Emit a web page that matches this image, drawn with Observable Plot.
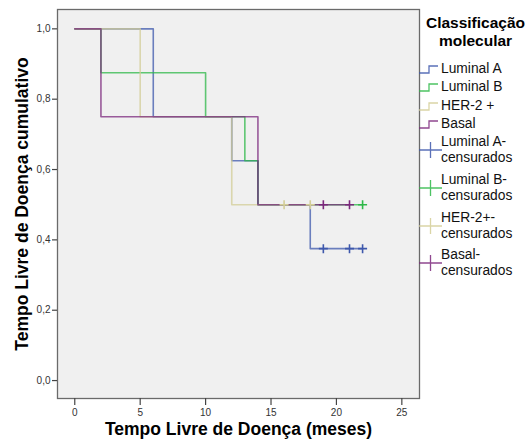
<!DOCTYPE html>
<html>
<head>
<meta charset="utf-8">
<script src="https://cdn.jsdelivr.net/npm/d3@7"></script>
<script src="https://cdn.jsdelivr.net/npm/@observablehq/plot@0.6"></script>
<style>
  html, body { margin: 0; padding: 0; background: #fff; }
  #wrap { position: relative; width: 531px; height: 445px; font-family: "Liberation Sans", Arial, sans-serif; }
  #legend { position: absolute; left: 0; top: 0; width: 531px; height: 445px; pointer-events: none; }
  .lt { position: absolute; font-size: 13.8px; color: #111; line-height: 16px; white-space: nowrap; }
  .title { position: absolute; font-weight: bold; font-size: 15.5px; color: #000; text-align: center; line-height: 18px; }
</style>
</head>
<body>
<div id="wrap"></div>
<script>
// ---- data ----
const groups = ["Luminal A", "Luminal B", "HER-2 +", "Basal"];
const colors = ["#3E58AC", "#2EB848", "#D3CE97", "#7C287D"];

// step points: time (months), cumulative survival
const lumA_t = [0, 6, 12, 14, 18, 22];
const lumA_s = [1, 0.75, 0.625, 0.5, 0.375, 0.375];
const lumB_t = [0, 2, 10, 13, 14, 22];
const lumB_s = [1, 0.875, 0.75, 0.625, 0.5, 0.5];
const her2_t = [0, 5, 12, 18];
const her2_s = [1, 0.75, 0.5, 0.5];
const basal_t = [0, 2, 14, 21];
const basal_s = [1, 0.75, 0.5, 0.5];

// censored observations
const lumA_ct = [19, 21, 22];  const lumA_cs = [0.375, 0.375, 0.375];
const lumB_ct = [22];          const lumB_cs = [0.5];
const her2_ct = [16, 18];      const her2_cs = [0.5, 0.5];
const basal_ct = [19, 21];     const basal_cs = [0.5, 0.5];

const xTicks = [0, 5, 10, 15, 20, 25];
const yTicks = [0, 0.2, 0.4, 0.6, 0.8, 1.0];
const xLabel = "Tempo Livre de Doença (meses)";
const yLabel = "Tempo Livre de Doença cumulativo";
const legendTitle = ["Classificação", "molecular"];
const legendEntries = [
  ["Luminal A"], ["Luminal B"], ["HER-2 +"], ["Basal"],
  ["Luminal A-", "censurados"], ["Luminal B-", "censurados"],
  ["HER-2+-", "censurados"], ["Basal-", "censurados"]
];

// ---- build tables ----
const stepT = [lumA_t, lumB_t, her2_t, basal_t];
const stepS = [lumA_s, lumB_s, her2_s, basal_s];
const cenT = [lumA_ct, lumB_ct, her2_ct, basal_ct];
const cenS = [lumA_cs, lumB_cs, her2_cs, basal_cs];

const steps = groups.map((g, i) => stepT[i].map((t, j) => ({group: g, t, s: stepS[i][j]})));
const cens = groups.flatMap((g, i) => cenT[i].map((t, j) => ({group: g, t, s: cenS[i][j]})));

const crossSymbol = {
  draw(ctx, size) {
    const r = Math.sqrt(size / Math.PI);
    ctx.moveTo(-r, 0); ctx.lineTo(r, 0);
    ctx.moveTo(0, -r); ctx.lineTo(0, r);
  }
};

const marks = [
  Plot.frame({fill: "#f0f0f0", stroke: "none"}),
  ...steps.map((d, i) => Plot.line(d, {x: "t", y: "s", curve: "step-after", stroke: colors[i], strokeWidth: 1.6, strokeOpacity: 0.75})),
  ...groups.map((g, i) => Plot.dot(cens.filter(d => d.group === g), {x: "t", y: "s", symbol: crossSymbol, r: 4.5, stroke: colors[i], strokeWidth: 1.6, fill: "none"})),
  Plot.frame({stroke: "#6a6a6a", strokeWidth: 1.3}),
  Plot.axisY({ticks: yTicks, tickFormat: d => d.toFixed(1).replace(".", ","), tickSize: 5, tickPadding: 2, label: null, stroke: "#444", strokeWidth: 1.2}),
  Plot.axisX({ticks: xTicks, tickSize: 7, tickPadding: 3, label: null, stroke: "#444", strokeWidth: 1.2}),
  Plot.text([xLabel], {frameAnchor: "bottom", dy: 36, text: d => d, fontSize: 17.5, fontWeight: "bold", fill: "#000"}),
  Plot.text([yLabel], {frameAnchor: "left", dx: -35, rotate: -90, textAnchor: "middle", text: d => d, fontSize: 17.5, fontWeight: "bold", fill: "#000"})
];

const chart = Plot.plot({
  width: 531,
  height: 445,
  marginLeft: 57,
  marginRight: 112,
  marginTop: 9,
  marginBottom: 47,
  x: {domain: [-1.32, 26.35]},
  y: {domain: [-0.051, 1.055]},
  style: {fontFamily: "'Liberation Sans', Arial, sans-serif", fontSize: "10px", color: "#333", background: "transparent"},
  marks
});

const wrap = document.getElementById("wrap");
wrap.appendChild(chart);

// ---- legend (HTML overlay) ----
const leg = document.createElement("div");
leg.id = "legend";
const title = document.createElement("div");
title.className = "title";
title.style.left = "420px"; title.style.width = "111px"; title.style.top = "14px";
title.innerHTML = legendTitle.join("<br>");
leg.appendChild(title);

const ns = "http://www.w3.org/2000/svg";
const svg = document.createElementNS(ns, "svg");
svg.setAttribute("width", 531); svg.setAttribute("height", 445);
svg.style.position = "absolute"; svg.style.left = "0"; svg.style.top = "0";
leg.appendChild(svg);

const rowY = [69, 87, 106, 124, 150, 188, 226, 263];
legendEntries.forEach((lines, k) => {
  const ci = k % 4;
  const cy = rowY[k];
  const col = colors[ci];
  if (k < 4) {
    const p = document.createElementNS(ns, "path");
    p.setAttribute("d", `M419,${cy + 4}H429V${cy - 3}H438`);
    p.setAttribute("fill", "none"); p.setAttribute("stroke", col); p.setAttribute("stroke-width", 1.3);
    p.setAttribute("stroke-opacity", 0.85);
    svg.appendChild(p);
  } else {
    const p = document.createElementNS(ns, "path");
    p.setAttribute("d", `M419,${cy}H442M430.5,${cy - 8}V${cy + 8}`);
    p.setAttribute("fill", "none"); p.setAttribute("stroke", col); p.setAttribute("stroke-width", 1.3);
    p.setAttribute("stroke-opacity", 0.85);
    svg.appendChild(p);
  }
  const t = document.createElement("div");
  t.className = "lt";
  t.style.left = "441px";
  t.style.top = (cy - (lines.length * 16) / 2) + "px";
  t.innerHTML = lines.join("<br>");
  leg.appendChild(t);
});
wrap.appendChild(leg);
</script>
</body>
</html>
